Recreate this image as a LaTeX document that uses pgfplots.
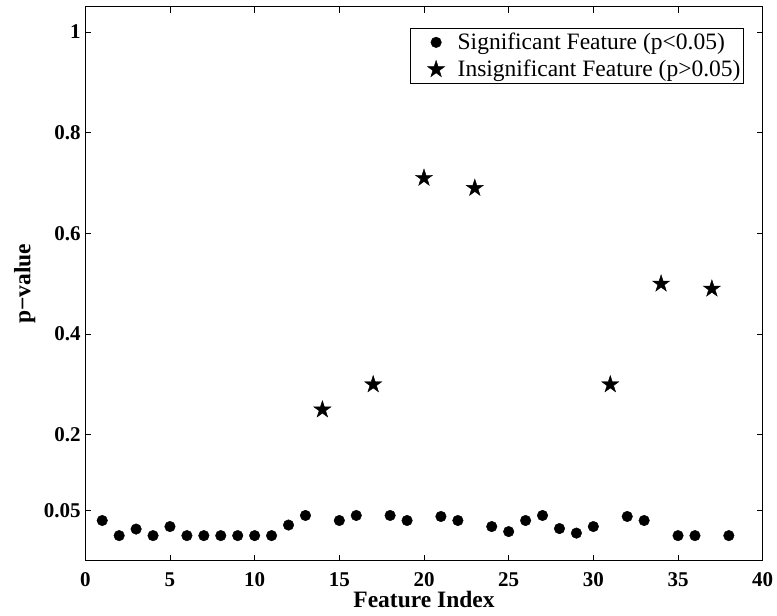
\documentclass[border=0pt]{standalone}
\usepackage{fontspec}
\setmainfont{Liberation Serif}
\usepackage{pgfplots}
\pgfplotsset{compat=1.18}

% filled five-point star, like MATLAB's pentagram
\pgfdeclareplotmark{fstar}{%
  \pgfpathmoveto{\pgfpointpolar{90}{\pgfplotmarksize}}%
  \pgfpathlineto{\pgfpointpolar{126}{0.382\pgfplotmarksize}}%
  \pgfpathlineto{\pgfpointpolar{162}{\pgfplotmarksize}}%
  \pgfpathlineto{\pgfpointpolar{198}{0.382\pgfplotmarksize}}%
  \pgfpathlineto{\pgfpointpolar{234}{\pgfplotmarksize}}%
  \pgfpathlineto{\pgfpointpolar{270}{0.382\pgfplotmarksize}}%
  \pgfpathlineto{\pgfpointpolar{306}{\pgfplotmarksize}}%
  \pgfpathlineto{\pgfpointpolar{342}{0.382\pgfplotmarksize}}%
  \pgfpathlineto{\pgfpointpolar{18}{\pgfplotmarksize}}%
  \pgfpathlineto{\pgfpointpolar{54}{0.382\pgfplotmarksize}}%
  \pgfpathclose
  \pgfusepathqfillstroke}

\begin{document}
\begin{tikzpicture}
\begin{axis}[
    name=ax,
    scale only axis,
    width=677.4pt, height=554pt,
    xmin=0, xmax=40, ymin=-0.05, ymax=1.05,
    xtick={0,5,...,40},
    ytick={0.05,0.2,0.4,0.6,0.8,1},
    yticklabels={0.05,0.2,0.4,0.6,0.8,1},
    /pgf/number format/assume math mode=true,
    tick align=inside,
    major tick length=6pt,
    tick style={black, line width=0.9pt},
    axis line style={line width=1.3pt},
    ticklabel style={font=\bfseries\fontsize{21}{24}\selectfont},
    xticklabel style={anchor=base, yshift=-25.7pt},
    yticklabel style={anchor=east, inner xsep=0pt, xshift=-4.5pt},
    xlabel={Feature Index},
    ylabel={p−value},
    label style={font=\bfseries\fontsize{23.5}{26}\selectfont},
    xlabel style={at={(rel axis cs:0.5,0)}, anchor=base, yshift=-47pt},
    ylabel style={at={(rel axis cs:0,0.5)}, anchor=base, yshift=55pt},
    legend style={at={(rel axis cs:1,1)}, anchor=north east,
        xshift=-18.7pt, yshift=-21pt,
        draw=black, line width=1.1pt,
        font=\fontsize{23.5}{26}\selectfont,
        inner xsep=1pt, inner ysep=3pt,
        row sep=5pt,
        nodes={inner sep=2pt}},
    legend cell align=left,
    legend image code/.code={%
        \path (0pt,0pt) (43pt,0pt);
        \draw[#1, line width=0.4pt] plot coordinates {(24pt,0pt)};},
]
\addplot[only marks, mark=*, mark size=5.3pt, black] coordinates {
    (1,0.030) (2,0.000) (3,0.013) (4,0.000) (5,0.018) (6,0.000)
    (7,0.000) (8,0.000) (9,0.000) (10,0.000) (11,0.000) (12,0.021)
    (13,0.040) (15,0.030) (16,0.040) (18,0.040) (19,0.030) (21,0.038)
    (22,0.030) (24,0.018) (25,0.008) (26,0.030) (27,0.040) (28,0.014)
    (29,0.005) (30,0.018) (32,0.038) (33,0.030) (35,0.000) (36,0.000)
    (38,0.000)
};
\addlegendentry{Significant Feature (p<0.05)}
\addplot[only marks, mark=fstar, mark size=9pt, black, line width=0.4pt] coordinates {
    (14,0.25) (17,0.30) (20,0.71) (23,0.69) (31,0.30) (34,0.50) (37,0.49)
};
\addlegendentry{Insignificant Feature (p>0.05)}
\end{axis}
\pgfresetboundingbox
\path ([xshift=-85.3pt,yshift=-55pt]ax.south west) rectangle ([xshift=14.3pt,yshift=6.8pt]ax.north east);
\end{tikzpicture}
\end{document}
